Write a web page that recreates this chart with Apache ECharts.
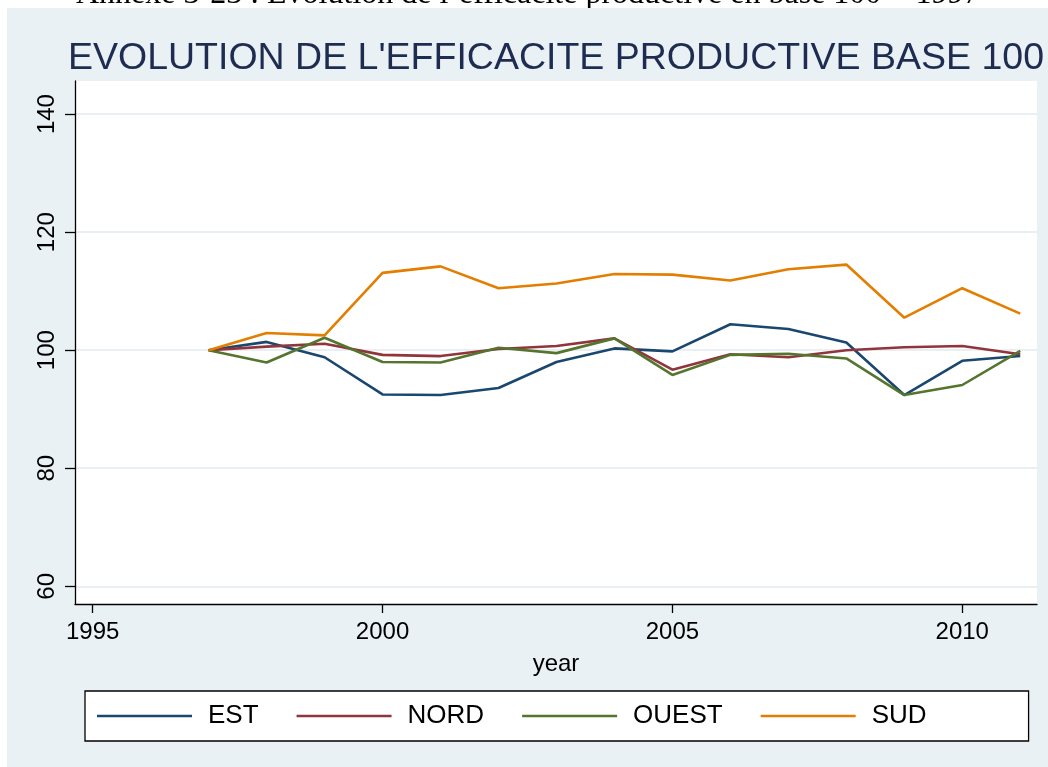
<!DOCTYPE html>
<html>
<head>
<meta charset="utf-8">
<script src="https://cdn.jsdelivr.net/npm/echarts@6/dist/echarts.min.js"></script>
<style>
  html, body { margin: 0; padding: 0; background: #ffffff; }
  #chart { width: 1048px; height: 767px; }
</style>
</head>
<body>
<div id="chart"></div>
<script>
// Productive efficiency by region, index base 100 = 1997
const years = [1997, 1998, 1999, 2000, 2001, 2002, 2003, 2004, 2005, 2006, 2007, 2008, 2009, 2010, 2011];
const est   = [100, 101.4, 98.8, 92.5, 92.4, 93.6, 98.0, 100.3, 99.8, 104.4, 103.6, 101.3, 92.4, 98.2, 99.0];
const nord  = [100, 100.6, 101.1, 99.2, 99.0, 100.2, 100.7, 102.0, 96.7, 99.3, 98.8, 100.0, 100.5, 100.7, 99.3];
const ouest = [100, 97.9, 102.1, 98.0, 97.9, 100.4, 99.5, 102.0, 95.8, 99.2, 99.4, 98.6, 92.4, 94.1, 99.9];
const sud   = [100, 102.9, 102.5, 113.1, 114.2, 110.5, 111.3, 112.9, 112.8, 111.8, 113.7, 114.5, 105.5, 110.5, 106.2];

const seriesNames = ['EST', 'NORD', 'OUEST', 'SUD'];
const seriesColors = ['#1a476f', '#90353b', '#55752f', '#e37e00'];
const xTicks = [1995, 2000, 2005, 2010];
const yTicks = [60, 80, 100, 120, 140];

const pairs = (vals) => years.map((y, i) => [y, vals[i]]);
const seriesData = [est, nord, ouest, sud];

const FONT = '"Liberation Sans", Arial, Helvetica, sans-serif';
const chart = echarts.init(document.getElementById('chart'), null, { renderer: 'canvas' });

chart.setOption({
  animation: false,
  backgroundColor: '#ffffff',
  graphic: [
    {
      type: 'rect', z: -10, silent: true,
      shape: { x: 7, y: 8, width: 1041, height: 759 },
      style: { fill: '#eaf1f4' }
    },
    {
      // document caption above the figure, mostly cut off by the page edge
      type: 'text', z: -5, silent: true,
      style: {
        text: 'Annexe 3-23 : Evolution de l\u2019efficacit\u00e9 productive en base 100 = 1997',
        x: 76, y: 11,
        font: '32px "Liberation Serif", "DejaVu Serif", serif',
        fill: '#000000',
        verticalAlign: 'bottom'
      }
    },
    {
      type: 'rect', z: -4, silent: true,
      shape: { x: 7, y: 8, width: 1041, height: 20 },
      style: { fill: '#eaf1f4' }
    }
  ],
  title: {
    text: "EVOLUTION DE L'EFFICACITE PRODUCTIVE BASE 100",
    left: 551, top: 35, textAlign: 'center',
    textStyle: { fontFamily: FONT, fontSize: 37.5, fontWeight: 'normal', color: '#1e2c52' }
  },
  grid: {
    left: 75, top: 81, width: 962, height: 523,
    show: true, backgroundColor: '#ffffff', borderWidth: 0,
    containLabel: false
  },
  xAxis: {
    type: 'value',
    min: 1994.695, max: 2011.289,
    name: 'year', nameLocation: 'middle', nameGap: 48,
    nameTextStyle: { fontFamily: FONT, fontSize: 24, color: '#000' },
    axisLine: { show: true, onZero: false, lineStyle: { color: '#000', width: 1.3 } },
    axisTick: { show: true, length: 9, customValues: xTicks, lineStyle: { color: '#000', width: 1.3 } },
    axisLabel: {
      customValues: xTicks, margin: 16, fontFamily: FONT, fontSize: 24, color: '#000',
      formatter: (v) => String(v)
    },
    splitLine: { show: false }
  },
  yAxis: {
    type: 'value',
    min: 57.0, max: 145.6,
    axisLine: { show: true, onZero: false, lineStyle: { color: '#000', width: 1.3 } },
    axisTick: { show: true, length: 10, customValues: yTicks, lineStyle: { color: '#000', width: 1.3 } },
    axisLabel: {
      customValues: yTicks, rotate: 90, margin: 16, fontFamily: FONT, fontSize: 24, color: '#000',
      formatter: (v) => String(v)
    },
    splitLine: { show: true, lineStyle: { color: '#e9eff2', width: 2 } }
  },
  legend: {
    left: 85, top: 691,
    orient: 'horizontal',
    backgroundColor: '#ffffff',
    borderColor: '#000000', borderWidth: 1.3,
    padding: [12, 102, 12, 12],
    icon: 'rect',
    itemWidth: 95, itemHeight: 2.6, itemGap: 38,
    textStyle: { fontFamily: FONT, fontSize: 26, color: '#000', lineHeight: 26, padding: [0, 0, 0, 11] },
    data: seriesNames
  },
  series: seriesNames.map((name, i) => ({
    name: name,
    type: 'line',
    data: pairs(seriesData[i]),
    symbol: 'none',
    color: seriesColors[i],
    lineStyle: { color: seriesColors[i], width: 2.6 }
  }))
});
</script>
</body>
</html>
